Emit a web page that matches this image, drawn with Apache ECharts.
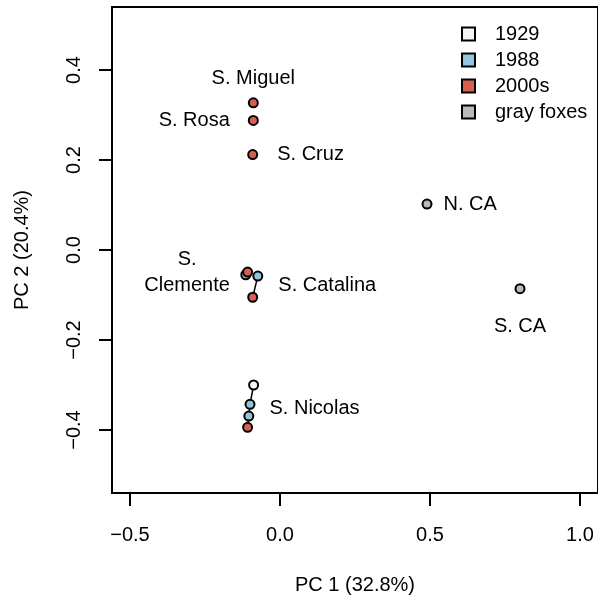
<!DOCTYPE html>
<html>
<head>
<meta charset="utf-8">
<script src="https://cdn.jsdelivr.net/npm/echarts@6/dist/echarts.min.js"></script>
<style>
  html, body { margin: 0; padding: 0; background: #fff; }
  #chart { width: 598px; height: 600px; }
</style>
</head>
<body>
<div id="chart"></div>
<script>
// PCA scores, [PC1, PC2, island]
const pts1929 = [[-0.088, -0.300, 'S. Nicolas']]
const pts1988 = [
  [-0.114, -0.055, 'S. Clemente'],
  [-0.074, -0.058, 'S. Catalina'],
  [-0.100, -0.343, 'S. Nicolas'],
  [-0.104, -0.369, 'S. Nicolas']
]
const pts2000s = [
  [-0.089, 0.327, 'S. Miguel'],
  [-0.089, 0.288, 'S. Rosa'],
  [-0.091, 0.212, 'S. Cruz'],
  [-0.108, -0.049, 'S. Clemente'],
  [-0.091, -0.105, 'S. Catalina'],
  [-0.108, -0.394, 'S. Nicolas']
]
const ptsGray = [[0.490, 0.102, 'N. CA'], [0.800, -0.086, 'S. CA']]

const xTicks = [-0.5, 0, 0.5, 1.0]
const yTicks = [-0.4, -0.2, 0, 0.2, 0.4]

// where each island name is written (series it hangs on + placement)
const labelPlace = {
  'S. Miguel':   { on: '2000s', position: 'top', distance: 6 },
  'S. Rosa':     { on: '2000s', position: 'left', distance: 18 },
  'S. Cruz':     { on: '2000s', position: 'right', distance: 19 },
  'S. Clemente': { on: '2000s', position: 'left', distance: 55, align: 'center', text: 'S.\nClemente' },
  'S. Catalina': { on: '1988', position: 'right', distance: 15, offset: [0, 9] },
  'S. Nicolas':  { on: '1988', position: 'right', distance: 14, offset: [0, 4] },
  'N. CA':       { on: 'gray foxes', position: 'right', distance: 11 },
  'S. CA':       { on: 'gray foxes', position: 'bottom', distance: 19 }
}

const font = 'Liberation Sans, Arial, Helvetica, sans-serif'
const fmt = v => v.toFixed(1).replace('-', '\u2212')

function makeSeries(name, pts, color) {
  const used = {}
  return {
    name: name,
    type: 'scatter',
    symbol: 'circle',
    symbolSize: 9,
    z: 3,
    itemStyle: { color: color, borderColor: '#000', borderWidth: 2, opacity: 1 },
    data: pts.map(p => {
      const lp = labelPlace[p[2]]
      const item = { value: [p[0], p[1]] }
      if (lp && lp.on === name && !used[p[2]]) {
        used[p[2]] = true
        item.label = {
          show: true,
          position: lp.position,
          distance: lp.distance,
          offset: lp.offset || [0, 0],
          align: lp.align,
          formatter: lp.text || p[2],
          color: '#000',
          fontFamily: font,
          fontSize: 20,
          lineHeight: 26
        }
      }
      return item
    })
  }
}

// connecting lines within each island, in time order
const lineSeries = []
const byIsland = {}
;[pts1929, pts1988, pts2000s].forEach(arr => arr.forEach(p => {
  (byIsland[p[2]] = byIsland[p[2]] || []).push([p[0], p[1]])
}))
Object.keys(byIsland).forEach(k => {
  if (byIsland[k].length > 1) {
    lineSeries.push({
      type: 'line',
      data: byIsland[k],
      showSymbol: false,
      silent: true,
      z: 2,
      lineStyle: { color: '#000', width: 1.5 }
    })
  }
})

const chart = echarts.init(document.getElementById('chart'))
chart.setOption({
  animation: false,
  textStyle: { fontFamily: font },
  grid: {
    left: 112, right: -2, top: 7, bottom: 105,
    show: true, borderColor: '#000', borderWidth: 2, backgroundColor: 'transparent'
  },
  legend: {
    left: 461, top: 24,
    padding: 0,
    orient: 'vertical',
    itemWidth: 13, itemHeight: 13, itemGap: 6,
    icon: 'rect',
    textStyle: { fontSize: 20, color: '#000', fontFamily: font, padding: [0, 0, 0, 15] },
    data: ['1929', '1988', '2000s', 'gray foxes']
  },
  xAxis: {
    type: 'value',
    min: -0.56, max: 1.06,
    name: 'PC 1 (32.8%)',
    nameLocation: 'middle',
    nameGap: 82,
    nameTextStyle: { fontSize: 20, color: '#000', fontFamily: font },
    splitLine: { show: false },
    axisLine: { show: true, onZero: false, lineStyle: { color: '#000', width: 2 } },
    axisTick: { show: true, length: 13, lineStyle: { color: '#000', width: 2 }, customValues: xTicks },
    axisLabel: { margin: 32, fontSize: 20, color: '#000', fontFamily: font, customValues: xTicks, formatter: fmt }
  },
  yAxis: {
    type: 'value',
    min: -0.54, max: 0.54,
    name: 'PC 2 (20.4%)',
    nameLocation: 'middle',
    nameGap: 80,
    nameTextStyle: { fontSize: 20, color: '#000', fontFamily: font },
    splitLine: { show: false },
    axisLine: { show: true, onZero: false, lineStyle: { color: '#000', width: 2 } },
    axisTick: { show: true, length: 13, lineStyle: { color: '#000', width: 2 }, customValues: yTicks },
    axisLabel: { margin: 28, rotate: 90, fontSize: 20, color: '#000', fontFamily: font, customValues: yTicks, formatter: fmt }
  },
  series: lineSeries.concat([
    makeSeries('1929', pts1929, '#f5f5f5'),
    makeSeries('1988', pts1988, '#92c5de'),
    makeSeries('2000s', pts2000s, '#d6604d'),
    makeSeries('gray foxes', ptsGray, '#bababa')
  ])
})
</script>
</body>
</html>
